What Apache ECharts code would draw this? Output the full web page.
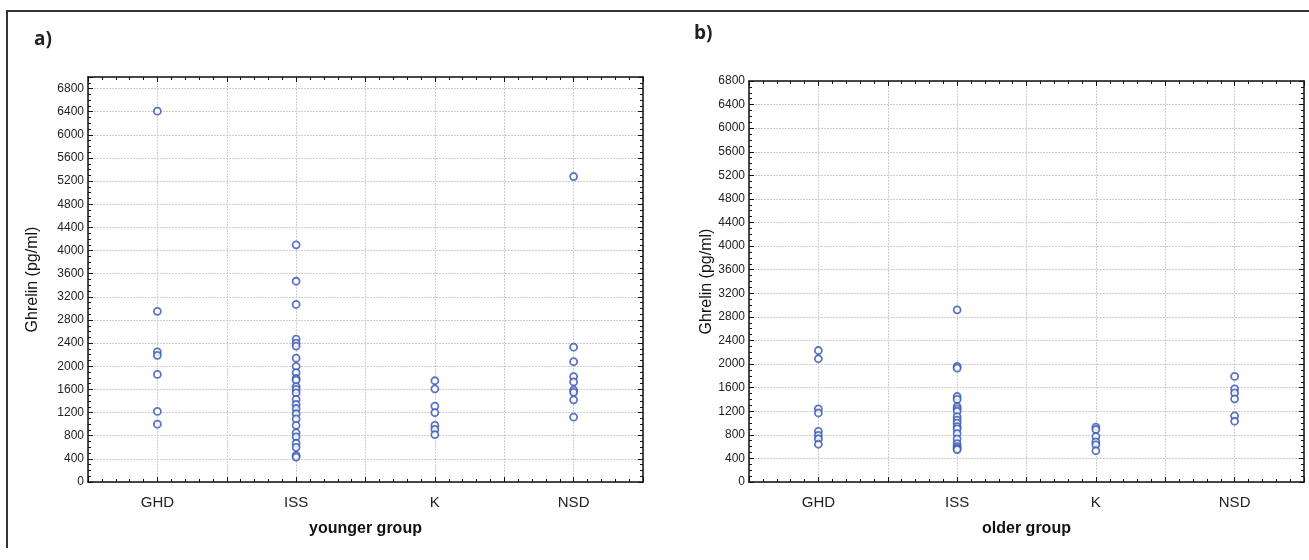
<!DOCTYPE html>
<html>
<head>
<meta charset="utf-8">
<title>Ghrelin by group</title>
<script src="https://cdn.jsdelivr.net/npm/echarts@6/dist/echarts.min.js"></script>
<style>
  html, body { margin: 0; padding: 0; background: #fff; }
  #main { width: 1309px; height: 560px; }
</style>
</head>
<body>
<div id="main"></div>
<script>
// categories on the x axis
var groups = ['GHD', 'ISS', 'K', 'NSD'];
var yTicks = 400;

// a) younger group, ghrelin pg/ml
var youngGHD = [6410, 2950, 2250, 2190, 1860, 1220, 1000];
var youngISS = [4100, 3470, 3070, 2470, 2400, 2350, 2140, 2000, 1890, 1790, 1760, 1650, 1600,
                1540, 1430, 1340, 1270, 1180, 1090, 980, 850, 780, 670, 600, 460, 430];
var youngK = [1750, 1610, 1310, 1200, 980, 910, 820];
var youngNSD = [5280, 2330, 2080, 1820, 1730, 1590, 1550, 1420, 1120];

// b) older group
var oldGHD = [2230, 2090, 1240, 1170, 860, 790, 730, 640];
var oldISS = [2920, 1960, 1930, 1450, 1400, 1280, 1240, 1200, 1110, 1050, 1000, 940, 900,
              820, 730, 650, 600, 570, 550];
var oldK = [930, 890, 770, 680, 630, 530];
var oldNSD = [1790, 1580, 1510, 1410, 1120, 1030];

var youngAll = [youngGHD, youngISS, youngK, youngNSD];
var oldAll = [oldGHD, oldISS, oldK, oldNSD];

function toPoints(cols) {
  var pts = [];
  cols.forEach(function (col, i) {
    col.forEach(function (v) { pts.push([i, v]); });
  });
  return pts;
}

var font = 'Liberation Sans, Arial, sans-serif';
var gridLine = { show: true, lineStyle: { color: '#cdcdcd', type: [2, 1], width: 1 } };
var axisLn = { show: true, onZero: false, lineStyle: { color: '#111', width: 1.5 } };

function xAxes(gi, title) {
  return [{
    type: 'value', gridIndex: gi, min: -0.5, max: 3.5, interval: 0.5,
    name: title, nameLocation: 'middle', nameGap: 39,
    nameTextStyle: { fontFamily: font, fontSize: 16, fontWeight: 'bold', color: '#111' },
    axisLine: axisLn,
    axisTick: { inside: true, length: 5, lineStyle: { color: '#111' } },
    minorTick: { show: true, splitNumber: 5, length: 3, lineStyle: { color: '#111' } },
    axisLabel: {
      margin: 13, fontFamily: font, fontSize: 15, color: '#222',
      formatter: function (v) { return Number.isInteger(v) ? groups[v] : ''; }
    },
    splitLine: gridLine
  }, {
    type: 'value', gridIndex: gi, position: 'top', min: -0.5, max: 3.5, interval: 0.5,
    axisLine: axisLn,
    axisTick: { inside: true, length: 5, lineStyle: { color: '#111' } },
    minorTick: { show: true, splitNumber: 5, length: 3, lineStyle: { color: '#111' } },
    axisLabel: { show: false }, splitLine: { show: false }
  }];
}

function yAxes(gi, max, gap) {
  return [{
    type: 'value', gridIndex: gi, min: 0, max: max, interval: yTicks,
    name: 'Ghrelin (pg/ml)', nameLocation: 'middle', nameGap: gap,
    nameTextStyle: { fontFamily: font, fontSize: 16, color: '#111' },
    axisLine: axisLn,
    axisTick: { inside: true, length: 5, lineStyle: { color: '#111' } },
    minorTick: { show: true, splitNumber: 4, length: 3, lineStyle: { color: '#111' } },
    axisLabel: {
      margin: 4, fontFamily: font, fontSize: 12, color: '#222',
      formatter: function (v) { return v % yTicks === 0 ? v : ''; }
    },
    splitLine: gridLine
  }, {
    type: 'value', gridIndex: gi, position: 'right', min: 0, max: max, interval: yTicks,
    axisLine: axisLn,
    axisTick: { inside: true, length: 5, lineStyle: { color: '#111' } },
    minorTick: { show: true, splitNumber: 4, length: 3, lineStyle: { color: '#111' } },
    axisLabel: { show: false }, splitLine: { show: false }
  }];
}

function dots(xi, yi, cols) {
  return {
    type: 'scatter', xAxisIndex: xi, yAxisIndex: yi, data: toPoints(cols),
    symbol: 'circle', symbolSize: 7,
    itemStyle: { color: '#fff', borderColor: '#3352b0', borderWidth: 1.8 },
    silent: true
  };
}

var chart = echarts.init(document.getElementById('main'));
chart.setOption({
  animation: false,
  backgroundColor: '#fff',
  grid: [
    { left: 88, right: 666, top: 77, bottom: 78 },
    { left: 749, right: 5, top: 81, bottom: 78 }
  ],
  xAxis: xAxes(0, 'younger group').concat(xAxes(1, 'older group')),
  yAxis: yAxes(0, 7000, 47).concat(yAxes(1, 6800, 29)),
  series: [dots(0, 0, youngAll), dots(2, 2, oldAll)],
  graphic: [
    { type: 'line', shape: { x1: 6, y1: 11, x2: 1309, y2: 11 }, style: { stroke: '#333', lineWidth: 2 } },
    { type: 'line', shape: { x1: 7, y1: 10, x2: 7, y2: 548 }, style: { stroke: '#333', lineWidth: 2 } },
    { type: 'text', left: 34, top: 30, style: { text: 'a)', font: 'bold 19px "Open Sans", sans-serif', fill: '#222' } },
    { type: 'text', left: 694, top: 24, style: { text: 'b)', font: 'bold 19px "Open Sans", sans-serif', fill: '#222' } }
  ]
});
</script>
</body>
</html>
